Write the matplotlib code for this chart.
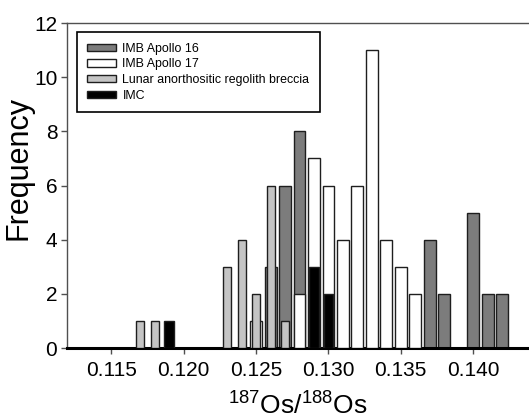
import matplotlib
matplotlib.use("Agg")
import matplotlib.pyplot as plt

plt.rcParams['font.family'] = ['Liberation Sans', 'DejaVu Sans']
plt.rcParams['mathtext.fontset'] = 'custom'
plt.rcParams['mathtext.rm'] = 'Liberation Sans'

# Data (bin centre, frequency)
bins_a16 = [0.126, 0.127, 0.128, 0.137, 0.138, 0.140, 0.141, 0.142]
freq_a16 = [3, 6, 8, 4, 2, 5, 2, 2]

bins_a17 = [0.125, 0.128, 0.129, 0.130, 0.131, 0.132, 0.133, 0.134, 0.135, 0.136]
freq_a17 = [1, 2, 7, 6, 4, 6, 11, 4, 3, 2]

bins_lar = [0.117, 0.118, 0.123, 0.124, 0.125, 0.126, 0.127]
freq_lar = [1, 1, 3, 4, 2, 6, 1]

bins_imc = [0.119, 0.129, 0.130]
freq_imc = [1, 3, 2]

labels = ["IMB Apollo 16", "IMB Apollo 17",
          "Lunar anorthositic regolith breccia", "IMC"]
xticks = [0.115, 0.120, 0.125, 0.130, 0.135, 0.140]
yticks = [0, 2, 4, 6, 8, 10, 12]

W, H = 529, 419
fig = plt.figure(figsize=(W / 100, H / 100), dpi=100)
ax = fig.add_axes([67 / W, 1 - 348 / H, (W - 67) / W, (348 - 23) / H])

edge = '#1e1e1e'
lw = 1.0
ax.bar(bins_a16, freq_a16, width=0.00082, color='#7c7c7c', edgecolor=edge,
       linewidth=lw, label=labels[0], zorder=2)
ax.bar(bins_a17, freq_a17, width=0.00082, color='white', edgecolor=edge,
       linewidth=lw, label=labels[1], zorder=3)
ax.bar(bins_lar, freq_lar, width=0.00055, color='#c4c4c4', edgecolor=edge,
       linewidth=lw, label=labels[2], zorder=4)
ax.bar(bins_imc, freq_imc, width=0.00068, color='black', edgecolor=edge,
       linewidth=lw, label=labels[3], zorder=5)

ax.set_xlim(0.11193, 0.14386)
ax.set_ylim(0, 12)
ax.set_xticks(xticks)
ax.set_xticklabels([f"{t:.3f}" for t in xticks])
ax.set_yticks(yticks)

for s in ['top', 'left']:
    ax.spines[s].set_color('#505050')
    ax.spines[s].set_linewidth(1.0)
ax.spines['right'].set_visible(False)
ax.spines['bottom'].set_color('black')
ax.spines['bottom'].set_linewidth(2.2)

ax.tick_params(axis='both', direction='out', length=4, width=1,
               color='#505050', labelsize=15)
ax.tick_params(axis='x', pad=5)
ax.tick_params(axis='y', pad=3)

ax.set_ylabel("Frequency", fontsize=22)
ax.yaxis.set_label_coords(-0.073, 0.554)
ax.set_xlabel(r"$\mathregular{^{187}Os/^{188}Os}$", fontsize=19, labelpad=9.5)

leg = ax.legend(loc='upper left', bbox_to_anchor=(0.021, 0.972),
                borderaxespad=0, fontsize=8.9, fancybox=False,
                edgecolor='black', framealpha=1, handlelength=2.3,
                handleheight=0.55, handletextpad=0.55, labelspacing=0.3,
                borderpad=0.85)
leg.get_frame().set_linewidth(1.2)

fig.savefig("out.png", dpi=100)
